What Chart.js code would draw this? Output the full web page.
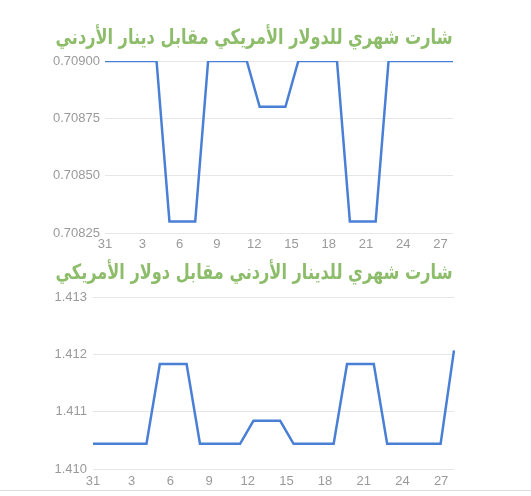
<!DOCTYPE html>
<html><head><meta charset="utf-8">
<script src="https://cdn.jsdelivr.net/npm/chart.js@4.4.0/dist/chart.umd.min.js"></script>
<style>
html,body{margin:0;padding:0;background:#fff;}
#w1{position:absolute;left:0;top:0;width:531px;height:258px;}
#w2{position:absolute;left:0;top:252px;width:531px;height:244px;}
#sep{position:absolute;left:0;top:490px;width:531px;height:1px;background:#dedede;}
</style></head><body>
<div id="w1"><canvas id="c1"></canvas></div>
<div id="w2"><canvas id="c2"></canvas></div>
<div id="sep"></div>
<script>
// axis day labels (29 slots) and data days (28 points)
const tickDays = ['31','1','2','3','4','5','6','7','8','9','10','11','12','13','14','15','16','17','18','19','20','21','22','23','24','25','26','27','28'];
const dataDays = ['31','1','2','3','4','5','6','7','8','9','10','11','12','13','14','15','16','17','18','19','20','21','22','23','24','25','26','27'];
const usdJod = [0.709,0.709,0.709,0.709,0.709,0.7083,0.7083,0.7083,0.709,0.709,0.709,0.709,0.7088,0.7088,0.7088,0.709,0.709,0.709,0.709,0.7083,0.7083,0.7083,0.709,0.709,0.709,0.709,0.709,0.709];
const jodUsd = [1.41044,1.41044,1.41044,1.41044,1.41044,1.41183,1.41183,1.41183,1.41044,1.41044,1.41044,1.41044,1.41084,1.41084,1.41084,1.41044,1.41044,1.41044,1.41044,1.41183,1.41183,1.41183,1.41044,1.41044,1.41044,1.41044,1.41044,1.41207];
const yTicks1 = [0.70825,0.7085,0.70875,0.709];
const yTicks2 = [1.410,1.411,1.412,1.413];
const title1 = 'شارت شهري للدولار الأمريكي مقابل دينار الأردني';
const title2 = 'شارت شهري للدينار الأردني مقابل دولار الأمريكي';

const LINE = '#4a7fd6';
const GRID = '#e6e6e6';
const TXT = '#9a9a9a';
const GREEN = '#8dbd6a';

// draws the chart heading centred at a given point (canvas text)
const headingPlugin = {
  id: 'heading',
  afterDraw(chart, args, o){
    const ctx = chart.ctx;
    ctx.save();
    ctx.font = 'bold 21px DejaVu Sans';
    ctx.fillStyle = o.color;
    ctx.textAlign = 'center';
    ctx.textBaseline = 'middle';
    ctx.fillText(o.text, o.x, o.y, o.maxWidth);
    ctx.restore();
  }
};

function make(id, values, yTicks, dec, title, cfg){
  return new Chart(document.getElementById(id), {
    type:'line',
    plugins:[headingPlugin],
    data:{ datasets:[{ data: values, xAxisID:'x', yAxisID:'y', borderColor: LINE, borderWidth: 2.5, pointRadius: 0, pointHoverRadius:0, tension: 0, fill:false }] },
    options:{
      responsive:true, maintainAspectRatio:false, animation:false,
      layout:{ padding:{ left: 0, right: cfg.padR, top: cfg.padT, bottom: 0 } },
      plugins:{ legend:{display:false}, tooltip:{enabled:false}, title:{display:false},
                heading:{ text: title, color: GREEN, x: 254, y: cfg.tY, maxWidth: 397 } },
      scales:{
        x:{ type:'category', labels: dataDays, display:false, offset:false },
        xt:{ type:'category', position:'bottom', labels: tickDays, offset:false,
             grid:{display:false, drawTicks:false}, border:{display:false},
             ticks:{ autoSkip:false, maxRotation:0, minRotation:0, padding: cfg.xPad, color:TXT, font:{family:'Liberation Sans', size:13},
                     callback:function(v,i){ return (i%3===0 && i<28) ? this.getLabelForValue(v) : ''; } },
             afterFit: s => { s.height = cfg.xH; } },
        y:{ type:'linear', min: yTicks[0], max: yTicks[yTicks.length-1],
            grid:{ color: GRID, drawTicks:false, lineWidth:1 }, border:{display:false},
            afterBuildTicks: s => { s.ticks = yTicks.map(v => ({value:v})); },
            ticks:{ padding: cfg.yPad, color:TXT, font:{family:'Liberation Sans', size:13}, callback: v => Number(v).toFixed(dec) },
            afterFit: s => { s.width = cfg.yW; } }
      }
    }
  });
}
make('c1', usdJod, yTicks1, 5, title1, {padT:61, padR:78, yW:105, yPad:5, xH:25, xPad:4, tY:38.6});
make('c2', jodUsd, yTicks2, 3, title2, {padT:45, padR:77, yW:93, yPad:6, xH:27, xPad:5, tY:21.6});
</script>
</body></html>
